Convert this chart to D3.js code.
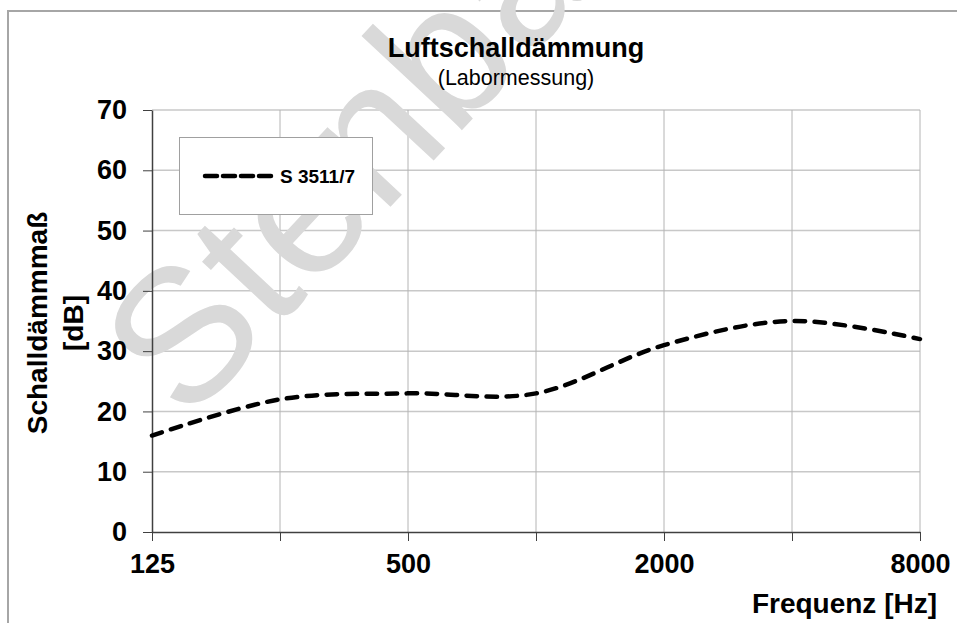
<!DOCTYPE html>
<html>
<head>
<meta charset="utf-8">
<script src="https://cdn.jsdelivr.net/npm/d3@7"></script>
<style>
  body { margin: 0; background: #fff; }
  svg text { font-family: "Liberation Sans", Arial, sans-serif; }
</style>
</head>
<body>
<div id="chart"></div>
<script>
// data (octave band values)
var freqs = [125, 250, 500, 1000, 2000, 4000, 8000];
var values = [16, 22, 23, 23, 31, 35, 32];
var yTicks = [0, 10, 20, 30, 40, 50, 60, 70];
var xLabels = [125, 500, 2000, 8000];
var seriesName = "S 3511/7";

function drawChart() {
    var width = 957, height = 623;
    var pLeft = 152, pRight = 920, pTop = 110, pBottom = 532;

    var svg = d3.select("#chart").append("svg")
        .attr("width", width)
        .attr("height", height);

    var x = d3.scaleLog().domain([125, 8000]).range([pLeft, pRight]);
    var y = d3.scaleLinear().domain([0, 70]).range([pBottom, pTop]);

    // outer frame (only top + left visible)
    svg.append("path")
        .attr("d", "M8," + height + "V11H" + width)
        .attr("fill", "none")
        .attr("stroke", "#a6a6a6")
        .attr("stroke-width", 2);

    // gridlines
    svg.append("g").selectAll("line").data(yTicks.filter(function(d) { return d > 0; }))
        .enter().append("line")
        .attr("x1", pLeft).attr("x2", pRight)
        .attr("y1", function(d) { return y(d); })
        .attr("y2", function(d) { return y(d); })
        .attr("stroke", "#c8c8c8")
        .attr("stroke-width", 1.5);

    svg.append("g").selectAll("line").data(freqs.slice(1))
        .enter().append("line")
        .attr("x1", function(d) { return x(d); })
        .attr("x2", function(d) { return x(d); })
        .attr("y1", pTop).attr("y2", pBottom)
        .attr("stroke", "#b4b4b4")
        .attr("stroke-width", 1);

    // watermark
    svg.append("text")
        .attr("transform", "translate(187,425) rotate(-47)")
        .attr("font-size", "190px")
        .attr("fill", "#d9d9d9")
        .text("Stenbau");

    // axes
    var yAxis = svg.append("g")
        .attr("transform", "translate(" + pLeft + ",0)")
        .call(d3.axisLeft(y).tickValues(yTicks).tickSize(9).tickSizeOuter(0).tickPadding(16));

    var xAxis = svg.append("g")
        .attr("transform", "translate(0," + pBottom + ")")
        .call(d3.axisBottom(x).tickValues(freqs).tickSize(9).tickSizeOuter(0).tickPadding(13)
            .tickFormat(function(d) { return xLabels.indexOf(d) >= 0 ? d : ""; }));

    [yAxis, xAxis].forEach(function(a) {
        a.select(".domain").attr("stroke", "#404040").attr("stroke-width", 1.5);
        a.selectAll(".tick line").attr("stroke", "#404040").attr("stroke-width", 1);
        a.selectAll(".tick text")
            .attr("font-size", "27px")
            .attr("font-weight", "bold")
            .attr("fill", "#000");
    });

    // curve
    var line = d3.line()
        .x(function(d, i) { return x(freqs[i]); })
        .y(function(d) { return y(d); })
        .curve(d3.curveCardinal.tension(0));

    svg.append("path")
        .datum(values)
        .attr("d", line)
        .attr("fill", "none")
        .attr("stroke", "#000")
        .attr("stroke-width", 4.5)
        .attr("stroke-linecap", "round")
        .attr("stroke-dasharray", "10.5,9.5");

    // legend
    var legend = svg.append("g");
    legend.append("rect")
        .attr("x", 179.5).attr("y", 137.5)
        .attr("width", 193).attr("height", 77)
        .attr("fill", "#fff")
        .attr("stroke", "#a0a0a0")
        .attr("stroke-width", 1);
    legend.append("line")
        .attr("x1", 205).attr("x2", 273)
        .attr("y1", 176).attr("y2", 176)
        .attr("stroke", "#000")
        .attr("stroke-width", 4.5)
        .attr("stroke-linecap", "round")
        .attr("stroke-dasharray", "12,6");
    legend.append("text")
        .attr("x", 280).attr("y", 183)
        .attr("font-size", "19px")
        .attr("font-weight", "bold")
        .text(seriesName);

    // titles
    svg.append("text")
        .attr("x", 516).attr("y", 57)
        .attr("text-anchor", "middle")
        .attr("font-size", "27px")
        .attr("font-weight", "bold")
        .text("Luftschalldämmung");

    svg.append("text")
        .attr("x", 516).attr("y", 85)
        .attr("text-anchor", "middle")
        .attr("font-size", "21.5px")
        .text("(Labormessung)");

    var yTitle = svg.append("text")
        .attr("transform", "translate(0,323) rotate(-90)")
        .attr("text-anchor", "middle")
        .attr("font-size", "28px")
        .attr("font-weight", "bold");
    yTitle.append("tspan").attr("x", 0).attr("y", 47).text("Schalldämmmaß");
    yTitle.append("tspan").attr("x", 0).attr("y", 83).text("[dB]");

    svg.append("text")
        .attr("x", 937).attr("y", 613)
        .attr("text-anchor", "end")
        .attr("font-size", "28px")
        .attr("font-weight", "bold")
        .text("Frequenz [Hz]");
}

drawChart();
</script>
</body>
</html>
